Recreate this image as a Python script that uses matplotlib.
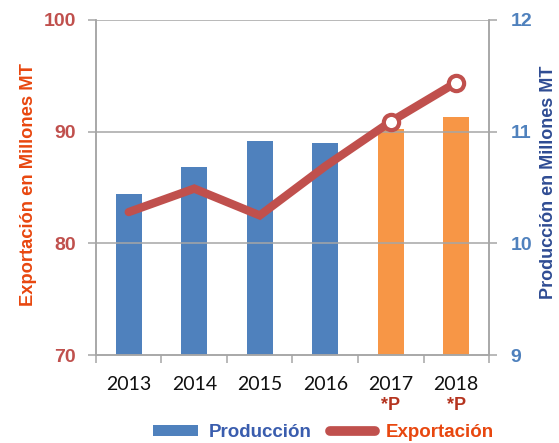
import matplotlib
matplotlib.use("Agg")
import matplotlib.pyplot as plt
from matplotlib.patches import Rectangle
from matplotlib.lines import Line2D
from matplotlib.transforms import blended_transform_factory

# Data
years = ["2013", "2014", "2015", "2016", "2017", "2018"]
projected = [False, False, False, False, True, True]
produccion = [10.44, 10.68, 10.92, 10.90, 11.02, 11.13]   # millones MT (eje derecho)
exportacion = [82.8, 84.9, 82.5, 86.9, 90.9, 94.4]        # millones MT (eje izquierdo)
left_ticks = [70, 80, 90, 100]
right_ticks = [9, 10, 11, 12]

BLUE = "#4F81BD"
ORANGE = "#F79646"
RED = "#C0504D"
GRID = "#A6A6A6"

plt.rcParams["font.family"] = ["Liberation Sans", "DejaVu Sans"]

fig = plt.figure(figsize=(5.59, 4.43), dpi=100)
ax = fig.add_axes([0.1717, 0.1986, 0.8748 - 0.1717, 0.9549 - 0.1986])
ax2 = ax.twinx()

x = list(range(len(years)))

# Bars on the right axis (production)
bar_colors = [ORANGE if p else BLUE for p in projected]
ax2.bar(x, produccion, width=0.4, color=bar_colors, zorder=2)
ax2.set_ylim(right_ticks[0], right_ticks[-1])
ax2.set_yticks(right_ticks)

# Line on the left axis (exports), drawn above the bars
ax.set_zorder(ax2.get_zorder() + 1)
ax.patch.set_visible(False)
ax.plot(x, exportacion, color=RED, lw=6, solid_capstyle="round",
        solid_joinstyle="miter", marker="o", markevery=[4, 5],
        markersize=11, markerfacecolor="white", markeredgecolor=RED,
        markeredgewidth=3, zorder=3)
ax.set_ylim(left_ticks[0], left_ticks[-1])
ax.set_yticks(left_ticks)
ax.set_xlim(-0.5, len(years) - 0.5)

# Grid
for v in left_ticks[1:]:
    ax.axhline(v, color=GRID, lw=1.1, zorder=0)

# Spines
for a in (ax, ax2):
    a.spines["top"].set_visible(False)
    for s in ("left", "right", "bottom"):
        a.spines[s].set_color(GRID)
        a.spines[s].set_linewidth(1.1)

# X axis: labels at centres, tick marks at category boundaries
ax.set_xticks(x)
ax.set_xticklabels(years, fontfamily="Lato", fontsize=14, color="#111111")
ax.tick_params(axis="x", which="major", length=0, pad=15)
ax.set_xticks([i + 0.5 for i in range(-1, len(years))], minor=True)
ax.tick_params(axis="x", which="minor", length=5.5, width=1.1, color=GRID)
ax2.tick_params(axis="x", which="both", length=0)

# Y tick labels
ax.tick_params(axis="y", length=5.5, width=1.1, color=GRID, pad=9,
               labelsize=14, labelcolor=RED)
for t in ax.get_yticklabels():
    t.set_fontweight("bold")
ax2.tick_params(axis="y", length=5.5, width=1.1, color=GRID, pad=10,
                labelsize=14, labelcolor=BLUE)
for t in ax2.get_yticklabels():
    t.set_fontweight("bold")

# Axis titles
ax.set_ylabel("Exportación en Millones MT", fontsize=13.2, fontweight="bold",
              color="#E8470F")
ax.yaxis.set_label_coords(-0.150, 0.51)
ax2.set_ylabel("Producción en Millones MT", fontsize=13.0, fontweight="bold",
               color="#2F4C93", rotation=90)
ax2.yaxis.set_label_coords(1.130, 0.515)

# Projection marks under projected years
trans = blended_transform_factory(ax.transData, fig.transFigure)
for i, p in enumerate(projected):
    if p:
        ax.text(i, 1 - 406 / 443, "*P", transform=trans, ha="center",
                va="center", fontsize=13, fontweight="bold", color="#B5341F")

# Legend
handles = [
    Rectangle((0, 0), 1, 1, facecolor=BLUE, edgecolor="none"),
    Line2D([0], [0], color=RED, lw=7, solid_capstyle="round"),
]
leg = fig.legend(handles, ["Producción", "Exportación"], loc="center",
                 bbox_to_anchor=(0.579, 0.023), ncol=2, frameon=False,
                 fontsize=13.5, handlelength=2.4, handleheight=0.5,
                 handletextpad=0.55, columnspacing=1.0, borderpad=0)
leg.get_texts()[0].set_color("#3A5DAE")
leg.get_texts()[1].set_color("#E8470F")
for t in leg.get_texts():
    t.set_fontweight("bold")

fig.savefig("out.png", dpi=100)
